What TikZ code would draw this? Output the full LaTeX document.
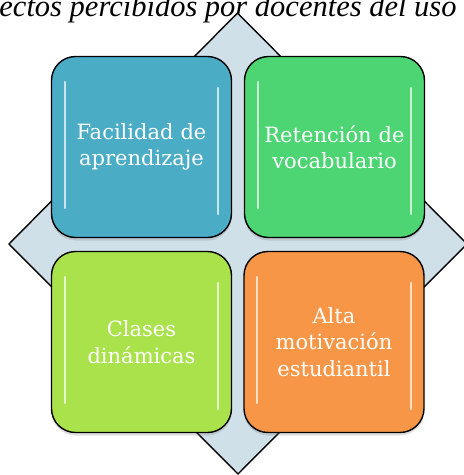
\documentclass[tikz,border=0pt]{standalone}
\usepackage{fontspec}
\usetikzlibrary{positioning,calc,shadows}
\setmainfont{Liberation Serif}
\newfontfamily\boxfont{DejaVu Serif}

\definecolor{diamondfill}{HTML}{CFE0E8}
\definecolor{boxblue}{HTML}{4BACC6}
\definecolor{boxgreen}{HTML}{4CD572}
\definecolor{boxlime}{HTML}{A9E24B}
\definecolor{boxorange}{HTML}{F79646}

\tikzset{
  effectbox/.style={draw=black, line width=1.4pt, rounded corners=24pt,
    minimum width=180pt, minimum height=181pt, text width=160pt,
    align=center, text=white,
    font=\boxfont\fontsize{21}{26.5}\selectfont,
    drop shadow={opacity=0.25, shadow xshift=0pt, shadow yshift=-3pt}},
  glint/.style={white, line width=2pt, line cap=round, opacity=0.7}
}

\begin{document}
\begin{tikzpicture}[x=1pt,y=-1pt]
\useasboundingbox (0,0) rectangle (464,475);

% Title
  \node[anchor=base, inner sep=0pt,
        font=\fontsize{30.5}{36}\selectfont\itshape]
        (title) at (228,16) {ectos percibidos por docentes del uso};

% Diamond
  \coordinate (dtop)    at (237.5,13);
  \coordinate (dleft)   at (9,244);
  \coordinate (dbottom) at (238,474);
  \coordinate (dright)  at (467,244);
  \draw[fill=diamondfill, line width=1.4pt, line join=miter]
        (dtop) -- (dleft) -- (dbottom) -- (dright) -- cycle;

% Nodes
  \node[effectbox, fill=boxblue]   (facil)  at (141.5,147)   {Facilidad de\\aprendizaje};
  \node[effectbox, fill=boxgreen]  (reten)  at (334.5,147)   {Retención de\\vocabulario};
  \node[effectbox, fill=boxlime]   (clases) at (141.5,342)   {Clases\\dinámicas};
  \node[effectbox, fill=boxorange] (motiv)  at (334,342)     {Alta\\motivación\\estudiantil};

% Glints
  \foreach \b in {facil,reten,clases,motiv}{
    \draw[glint] ($(\b.north west)+(14,26)$) -- ($(\b.south west)+(14,-30)$);
    \draw[glint] ($(\b.north east)+(-14,32)$) -- ($(\b.south east)+(-14,-24)$);
  }

\end{tikzpicture}
\end{document}
